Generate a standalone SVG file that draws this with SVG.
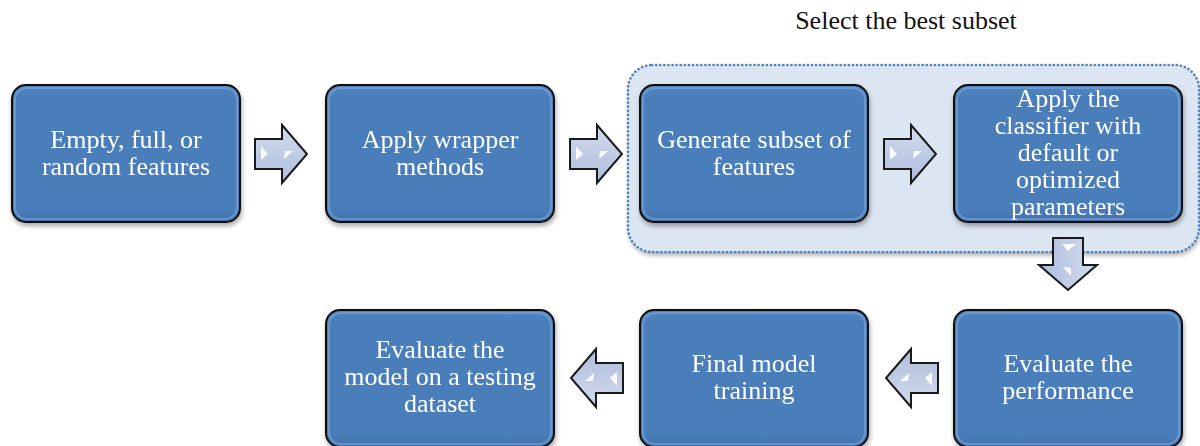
<svg xmlns="http://www.w3.org/2000/svg" width="1200" height="446" viewBox="0 0 1200 446">
  <defs>
    <style>
      .box { fill: url(#boxFill); stroke: #111; stroke-width: 2; }
      .rim { fill: none; stroke: #86abdc; stroke-width: 2; opacity: 0.55; }
      .shine { stroke: url(#shineGrad); stroke-width: 3.5; stroke-linecap: round; }
      .label { font-family: "Liberation Serif", "Times New Roman", serif; font-size: 26px; fill: #ffffff; text-anchor: middle; }
      .title { font-family: "Liberation Serif", "Times New Roman", serif; font-size: 26px; fill: #111; text-anchor: middle; }
      .arrow { fill: url(#arrowFill); stroke: #1a1a1a; stroke-width: 2; stroke-linejoin: miter; }
      .glint { fill: #ffffff; opacity: 0.9; }
    </style>
    <linearGradient id="boxFill" x1="0" y1="0" x2="0" y2="1">
      <stop offset="0" stop-color="#5286c4"/>
      <stop offset="0.08" stop-color="#4a7ebb"/>
      <stop offset="0.9" stop-color="#4a7ebb"/>
      <stop offset="1" stop-color="#3f70ab"/>
    </linearGradient>
    <linearGradient id="shineGrad" x1="0" y1="0" x2="0" y2="1">
      <stop offset="0" stop-color="#d8ecff"/>
      <stop offset="0.5" stop-color="#bcdcff"/>
      <stop offset="1" stop-color="#e6f3ff"/>
    </linearGradient>
    <linearGradient id="arrowFill" x1="0" y1="0" x2="0" y2="1">
      <stop offset="0" stop-color="#d3dcee"/>
      <stop offset="1" stop-color="#aebcdc"/>
    </linearGradient>
    <filter id="shadow" x="-10%" y="-10%" width="120%" height="125%">
      <feGaussianBlur in="SourceAlpha" stdDeviation="2.5"/>
      <feOffset dx="1" dy="3" result="b"/>
      <feComponentTransfer><feFuncA type="linear" slope="0.35"/></feComponentTransfer>
      <feMerge><feMergeNode/><feMergeNode in="SourceGraphic"/></feMerge>
    </filter>
    <!-- block arrow pointing right, centred on the origin -->
    <g id="blockArrow">
      <path class="arrow" d="M -26 -15 L 1 -15 L 1 -29 L 26 0 L 1 29 L 1 15 L -26 15 Z"/>
      <path class="glint" d="M -20 -8 L -13 0 L -20 6 Z" opacity="0.8"/>
      <path class="glint" d="M 4 -3 L 12 -3 L 3 5 Z" opacity="0.8"/>
    </g>
  </defs>

  <rect width="1200" height="446" fill="#ffffff"/>

  <!-- grouping frame for the subset search loop -->
  <g id="subset-frame">
    <rect x="628" y="65" width="571" height="187" rx="24" fill="#dce6f2" filter="url(#shadow)"/>
    <rect x="628" y="65" width="571" height="187" rx="24" fill="none" stroke="#4f81bd" stroke-width="2.6" stroke-dasharray="0.1 4" stroke-linecap="round"/>
    <text class="title" x="906" y="29">Select the best subset</text>
  </g>

  <g id="node-start" filter="url(#shadow)">
    <rect class="box" x="12" y="85" width="228" height="137" rx="14"/>
    <rect class="rim" x="15" y="88" width="222" height="131" rx="12"/>
    <line class="shine" x1="23" y1="100" x2="23" y2="207"/>
    <line class="shine" x1="229" y1="100" x2="229" y2="207"/>
    <text class="label" x="126" y="148">Empty, full, or</text>
    <text class="label" x="126" y="175">random features</text>
  </g>

  <g id="node-wrapper" filter="url(#shadow)">
    <rect class="box" x="326" y="85" width="228" height="137" rx="14"/>
    <rect class="rim" x="329" y="88" width="222" height="131" rx="12"/>
    <line class="shine" x1="337" y1="100" x2="337" y2="207"/>
    <line class="shine" x1="543" y1="100" x2="543" y2="207"/>
    <text class="label" x="440" y="148">Apply wrapper</text>
    <text class="label" x="440" y="175">methods</text>
  </g>

  <g id="node-generate" filter="url(#shadow)">
    <rect class="box" x="640" y="85" width="228" height="137" rx="14"/>
    <rect class="rim" x="643" y="88" width="222" height="131" rx="12"/>
    <line class="shine" x1="651" y1="100" x2="651" y2="207"/>
    <line class="shine" x1="857" y1="100" x2="857" y2="207"/>
    <text class="label" x="754" y="148">Generate subset of</text>
    <text class="label" x="754" y="175">features</text>
  </g>

  <g id="node-classifier" filter="url(#shadow)">
    <rect class="box" x="954" y="85" width="228" height="137" rx="14"/>
    <rect class="rim" x="957" y="88" width="222" height="131" rx="12"/>
    <line class="shine" x1="965" y1="100" x2="965" y2="207"/>
    <line class="shine" x1="1171" y1="100" x2="1171" y2="207"/>
    <text class="label" x="1068" y="107">Apply the</text>
    <text class="label" x="1068" y="134">classifier with</text>
    <text class="label" x="1068" y="161">default or</text>
    <text class="label" x="1068" y="188">optimized</text>
    <text class="label" x="1068" y="215">parameters</text>
  </g>

  <g id="node-performance" filter="url(#shadow)">
    <rect class="box" x="954" y="310" width="228" height="137" rx="14"/>
    <rect class="rim" x="957" y="313" width="222" height="131" rx="12"/>
    <line class="shine" x1="965" y1="325" x2="965" y2="432"/>
    <line class="shine" x1="1171" y1="325" x2="1171" y2="432"/>
    <text class="label" x="1068" y="372">Evaluate the</text>
    <text class="label" x="1068" y="399">performance</text>
  </g>

  <g id="node-final" filter="url(#shadow)">
    <rect class="box" x="640" y="310" width="228" height="137" rx="14"/>
    <rect class="rim" x="643" y="313" width="222" height="131" rx="12"/>
    <line class="shine" x1="651" y1="325" x2="651" y2="432"/>
    <line class="shine" x1="857" y1="325" x2="857" y2="432"/>
    <text class="label" x="754" y="372">Final model</text>
    <text class="label" x="754" y="399">training</text>
  </g>

  <g id="node-test" filter="url(#shadow)">
    <rect class="box" x="326" y="310" width="228" height="137" rx="14"/>
    <rect class="rim" x="329" y="313" width="222" height="131" rx="12"/>
    <line class="shine" x1="337" y1="325" x2="337" y2="432"/>
    <line class="shine" x1="543" y1="325" x2="543" y2="432"/>
    <text class="label" x="440" y="358">Evaluate the</text>
    <text class="label" x="440" y="385">model on a testing</text>
    <text class="label" x="440" y="412">dataset</text>
  </g>

  <g id="connectors">
    <use href="#blockArrow" transform="translate(281 154)"/>
    <use href="#blockArrow" transform="translate(596 154)"/>
    <use href="#blockArrow" transform="translate(910 154)"/>
    <use href="#blockArrow" transform="translate(1068 264) rotate(90)"/>
    <use href="#blockArrow" transform="translate(912 378) rotate(180)"/>
    <use href="#blockArrow" transform="translate(597 378) rotate(180)"/>
  </g>
</svg>
